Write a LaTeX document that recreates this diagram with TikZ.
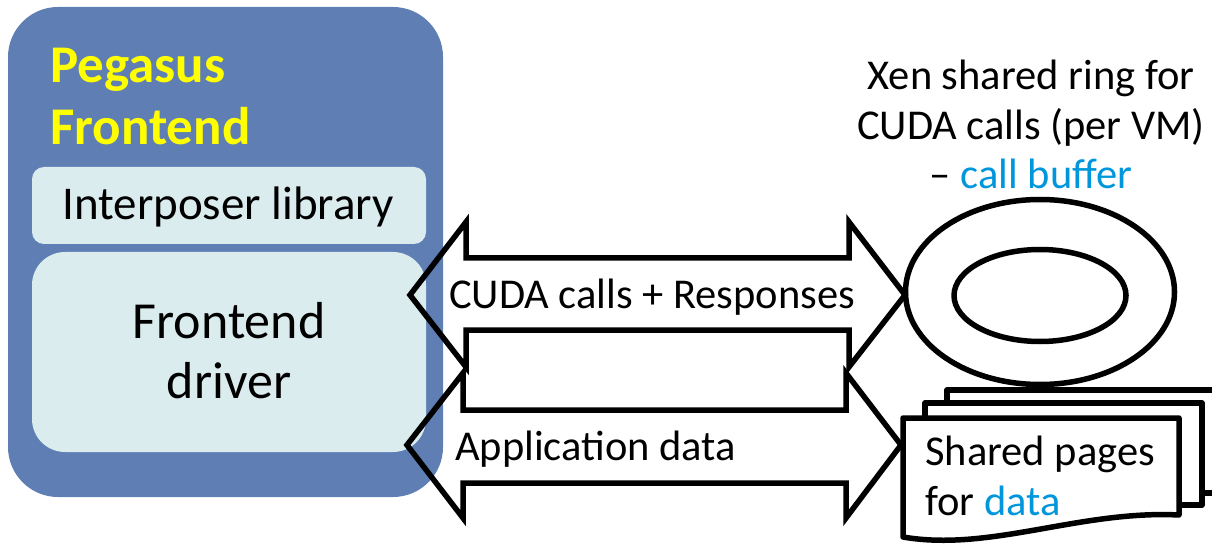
\documentclass[tikz,border=0pt]{standalone}
\usepackage{fontspec}
\setmainfont{Carlito}
\definecolor{outerblue}{RGB}{94,126,180}
\definecolor{innerpale}{RGB}{218,236,238}
\definecolor{linkblue}{RGB}{0,150,220}
\definecolor{titleyellow}{RGB}{255,255,0}
\tikzset{
  outline/.style={draw=black, line width=5.5pt, fill=white},
  palebox/.style={fill=innerpale},
  lbl/.style={inner sep=0pt, font=\fontsize{42.5}{49.5}\selectfont},
}
\begin{document}
\begin{tikzpicture}[x=1pt,y=-1pt]
\path[use as bounding box] (0,0) rectangle (1212,545);

% Pegasus frontend container
\fill[outerblue, rounded corners=50pt] (8,7) rectangle (443,497);
\fill[palebox, rounded corners=12pt] (32,167) rectangle (426,244);
\fill[palebox, rounded corners=33pt] (32,252) rectangle (426,452);

% multi-line nodes sit on the baseline of their last line
\node[inner sep=0pt, anchor=base west, text=titleyellow, align=left,
      font=\fontsize{53}{62}\selectfont\bfseries] (title) at (50,145) {Pegasus\\Frontend};
\node[inner sep=0pt, anchor=base, font=\fontsize{47}{50}\selectfont] (interposer) at (228,220) {Interposer library};
\node[inner sep=0pt, anchor=base, align=center, font=\fontsize{52}{60}\selectfont] (driver) at (229,398) {Frontend\\driver};

% Shared ring
\coordinate (ringc) at (1040,292);
\coordinate (holec) at (1040,295.5);
\draw[outline] (ringc) ellipse [x radius=134.5, y radius=92.5];
\draw[outline] (holec) ellipse [x radius=86, y radius=46];
\node[lbl, anchor=base, align=center] (ringlabel) at (1031,189)
  {Xen shared ring for\\CUDA calls (per VM)\\– \textcolor{linkblue}{call buffer}};

% Stack of shared pages
\begin{scope}
\clip (0,0) rectangle (1212,545);
\draw[outline, line join=round] (947,390) rectangle (1230,493);
\draw[outline, line join=round] (925,403) rectangle (1202,505);
\draw[outline, line join=round] (903,418) -- (1179,418) -- (1179,515)
   .. controls (1080,510) and (990,552) .. (903,537) -- cycle;
\end{scope}
\node[lbl, anchor=base west, align=left] (pages) at (925,515)
  {Shared pages\\for \textcolor{linkblue}{data}};

% Double-headed block arrows between the frontend and the shared structures
\coordinate (callsL) at (410,295);
\coordinate (callsR) at (905,295);
\draw[outline, fill=none] (callsL) -- (466,222) -- (466,258) -- (849,258) -- (849,222)
  -- (callsR) -- (849,367) -- (849,330) -- (466,330) -- (466,367) -- cycle;
\node[lbl, anchor=base west] (callstext) at (449,308) {CUDA calls + Responses};

\coordinate (dataL) at (407,445);
\coordinate (dataR) at (901,445);
\draw[outline, fill=none] (dataL) -- (463,373) -- (463,410) -- (846,410) -- (846,373)
  -- (dataR) -- (846,518) -- (846,483) -- (463,483) -- (463,518) -- cycle;
\node[lbl, anchor=base west] (datatext) at (455,460) {Application data};
\end{tikzpicture}
\end{document}
